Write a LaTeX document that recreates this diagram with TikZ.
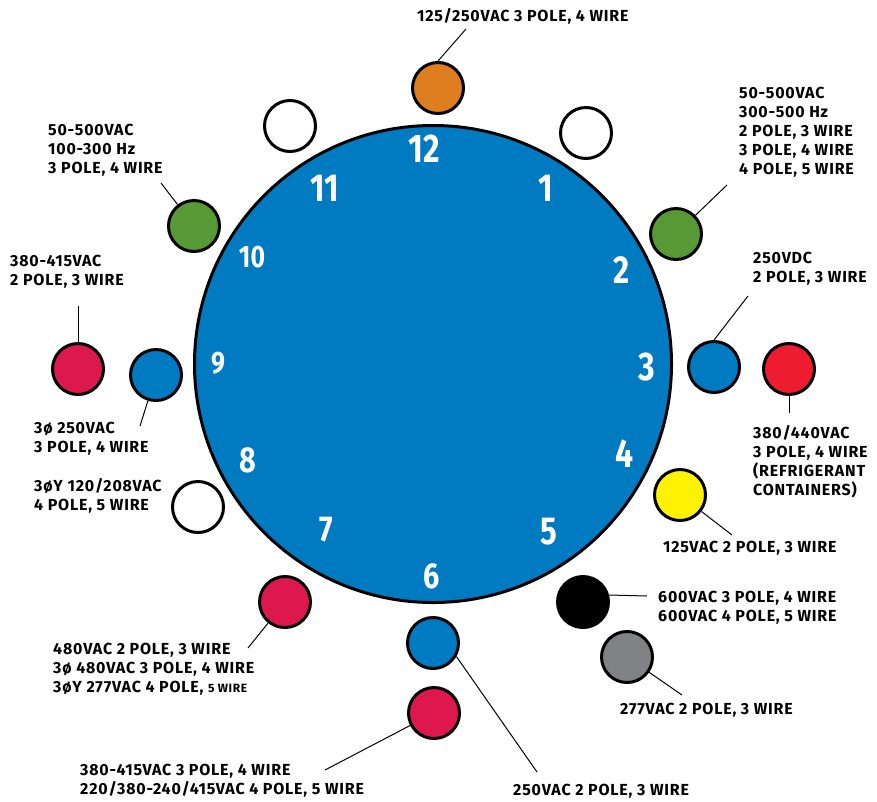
\documentclass[tikz,border=0pt]{standalone}
\usepackage{fontspec}
\setmainfont{Fira Sans}
\newfontfamily\hourfont[FakeStretch=0.8]{Fira Sans}
\newfontfamily\notefont[LetterSpace=5]{Fira Sans}
\usepackage{tikz}
\definecolor{dialblue}{HTML}{007BC2}
\definecolor{pinorange}{HTML}{DF7E1F}
\definecolor{pingreen}{HTML}{579A35}
\definecolor{pincrimson}{HTML}{DD184E}
\definecolor{pinred}{HTML}{ED1C2E}
\definecolor{pinyellow}{HTML}{FFF200}
\definecolor{pingrey}{HTML}{808285}
\tikzset{
  dial/.style={circle,draw=black,line width=3pt,fill=dialblue,minimum size=477pt,inner sep=0pt},
  pin/.style={circle,draw=black,line width=3pt,minimum size=51pt,inner sep=0pt},
  hour/.style={text=white,inner sep=0pt,font=\hourfont\bfseries\fontsize{#1}{#1}\selectfont},
  note/.style={anchor=north west,align=left,inner sep=0pt,font=\notefont\bfseries\fontsize{16}{19}\selectfont},
  leader/.style={draw=black,line width=1pt}
}

\begin{document}
\begin{tikzpicture}[x=1pt,y=-1pt]
  \useasboundingbox (0,0) rectangle (877,801);
  \node[dial] (dial) at (433,364) {};
  \foreach \h/\x/\y/\s in {12/424/149/40,1/546/188/39,2/622/270/39,3/647/367/40,
                           4/625/454/40,5/549/532/39,6/432/576/36,7/326/530/36,
                           8/248/460/36,9/218/363/31,10/252/257/31,11/325/188/39}
    \node[hour=\s] (h\h) at (\x,\y) {\h};
  % receptacles
  \node[pin,fill=pinorange] (p12) at (438,88) {};
  \node[pin,fill=white] (p11) at (290,126) {};
  \node[pin,fill=pingreen] (p10) at (194,226) {};
  \node[pin,fill=white] (p1) at (586,133) {};
  \node[pin,fill=pingreen] (p2) at (676,234) {};
  \node[pin,fill=dialblue] (p3) at (714,367) {};
  \node[pin,fill=pinred] (p3r) at (789,369) {};
  \node[pin,fill=pinyellow] (p4) at (680,495) {};
  \node[pin,fill=pincrimson] (p9l) at (78,369) {};
  \node[pin,fill=dialblue] (p9) at (156,375) {};
  \node[pin,fill=white] (p8) at (198,507) {};
  \node[pin,fill=pincrimson] (p7) at (285,602) {};
  \node[pin,fill=dialblue] (p6) at (433,643) {};
  \node[pin,fill=pincrimson] (p6l) at (434,713) {};
  \node[pin,fill=black] (p5) at (583,602) {};
  \node[pin,fill=pingrey] (p5g) at (627,657) {};
  % leader ends
  \coordinate (e12) at (466,29);
  \coordinate (e10) at (161,183);
  \coordinate (e2) at (727,185);
  \coordinate (e3) at (748,296);
  \coordinate (e3r) at (789,413);
  \coordinate (e4) at (732,535);
  \coordinate (e9l) at (78,306);
  \coordinate (e9) at (140,426);
  \coordinate (e7) at (248,648);
  \coordinate (e6l) at (325,770);
  \coordinate (e6) at (537,772);
  \coordinate (e5) at (647,596);
  \coordinate (e5g) at (682,695);
  \draw[leader] (p12.north) -- (e12);
  \draw[leader] (p10) -- (e10);
  \draw[leader] (p2) -- (e2);
  \draw[leader] (p3.north) -- (e3);
  \draw[leader] (p3r) -- (e3r);
  \draw[leader] (p4) -- (e4);
  \draw[leader] (p9l) -- (e9l);
  \draw[leader] (p9) -- (e9);
  \draw[leader] (p7) -- (e7);
  \draw[leader] (p6l) -- (e6l);
  \draw[leader] (p6.-30) -- (e6);
  \draw[leader] (p5.15) -- (e5);
  \draw[leader] (p5g) -- (e5g);
  % labels
  \node[note] (l12) at (417,8) {125/250VAC 3 POLE, 4 WIRE};
  \node[note] (l10) at (48,124) {50-500VAC\\100-300 Hz\\3 POLE, 4 WIRE};
  \node[note] (l9l) at (10,255) {380-415VAC\\2 POLE, 3 WIRE};
  \node[note] (l2) at (739,87) {50-500VAC\\300-500 Hz\\2 POLE, 3 WIRE\\3 POLE, 4 WIRE\\4 POLE, 5 WIRE};
  \node[note] (l3) at (753,252) {250VDC\\2 POLE, 3 WIRE};
  \node[note] (l3r) at (753,425) {380/440VAC\\3 POLE, 4 WIRE\\(REFRIGERANT\\CONTAINERS)};
  \node[note] (l4) at (663,541) {125VAC 2 POLE, 3 WIRE};
  \node[note] (l9) at (34,422) {3ø 250VAC\\3 POLE, 4 WIRE};
  \node[note] (l8) at (34,478) {3øY 120/208VAC\\4 POLE, 5 WIRE};
  \node[note] (l7) at (53,643) {480VAC 2 POLE, 3 WIRE\\3ø 480VAC 3 POLE, 4 WIRE\\3øY 277VAC 4 POLE, {\fontsize{12}{19}\selectfont 5 WIRE}};
  \node[note] (l6l) at (80,764) {380-415VAC 3 POLE, 4 WIRE\\220/380-240/415VAC 4 POLE, 5 WIRE};
  \node[note] (l5) at (658,591) {600VAC 3 POLE, 4 WIRE\\600VAC 4 POLE, 5 WIRE};
  \node[note] (l5g) at (620,703) {277VAC 2 POLE, 3 WIRE};
  \node[note] (l6) at (513,784) {250VAC 2 POLE, 3 WIRE};
\end{tikzpicture}
\end{document}
